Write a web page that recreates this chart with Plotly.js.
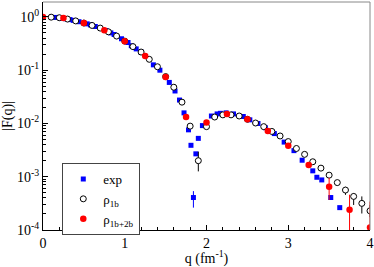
<!DOCTYPE html>
<html><head><meta charset="utf-8">
<script src="https://cdn.plot.ly/plotly-3.0.1.min.js"></script>
<style>html,body{margin:0;padding:0;background:#fff;}#c{width:374px;height:267px;}</style>
</head><body><div id="c"></div>
<script>
// exp data
var expQ = [0.15,0.22,0.28,0.33,0.37,0.44,0.54,0.58,0.64,0.77,0.83,0.87,0.96,1.04,1.08,1.14,1.20,1.35,1.43,1.545,1.615,1.67,1.725,1.78,1.81,1.84,1.87,1.90,1.95,2.06,2.13,2.17,2.24,2.33,2.45,2.53,2.63,2.72,2.79,2.83,2.95,3.07,3.17,3.30,3.35,3.41,3.52,3.63];
var expF = [0.977,0.944,0.923,0.891,0.861,0.813,0.741,0.708,0.661,0.556,0.501,0.468,0.389,0.331,0.288,0.251,0.219,0.126,0.100,0.0589,0.0407,0.0275,0.0158,0.00759,0.00389,0.000407,0.00269,0.00525,0.00912,0.0138,0.0151,0.0155,0.0158,0.0151,0.0135,0.0117,0.0100,0.00832,0.00708,0.00646,0.00447,0.00309,0.00204,0.00129,0.000977,0.000871,0.000407,0.000263];
var expErrP = expQ.map(function(q){return q===1.84?0.00013:0;});
var expErrM = expQ.map(function(q){return q===1.84?0.000144:0;});

// rho_1b
var q1b = [0.1,0.2,0.3,0.4,0.5,0.6,0.7,0.8,0.9,1.0,1.1,1.2,1.3,1.4,1.5,1.6,1.7,1.8,1.9,2.0,2.1,2.2,2.3,2.4,2.5,2.6,2.7,2.8,2.9,3.0,3.1,3.2,3.3,3.4,3.5,3.6,3.7,3.8,3.9,4.0];
var f1b = [0.989,0.966,0.912,0.841,0.767,0.692,0.617,0.525,0.437,0.351,0.277,0.219,0.160,0.116,0.0759,0.0479,0.0251,0.00891,0.00200,0.00871,0.0132,0.0145,0.0145,0.0138,0.0120,0.0102,0.00871,0.00708,0.00582,0.00457,0.00339,0.00263,0.00191,0.00145,0.00107,0.000776,0.000562,0.000427,0.000316,0.000229];
var e1bP = [0,0,0,0,0,0,0,0,0,0,0,0,0,0,0,0,0,0,0.00095,0,0,0,0,0,0,0,0,0,0,0,0,0,0,0,0,0.00008,0.000084,0.000063,0.000111,0.000066];
var e1bM = [0,0,0,0,0,0,0,0,0,0,0,0,0,0,0,0,0,0,0.00074,0,0,0,0,0,0,0,0,0,0,0,0,0,0,0,0,0.00008,0.000105,0.000132,0.000112,0.000055];

// rho_1b+2b
var q2b = [0,0.25,0.5,0.75,1.0,1.25,1.5,1.75,2.0,2.25,2.5,2.75,3.0,3.25,3.5,3.75,4.0];
var f2b = [1.0,0.955,0.771,0.562,0.350,0.184,0.0741,0.0132,0.0104,0.0151,0.0120,0.00724,0.00380,0.00166,0.000646,0.000240,0.000112];
var e2bP = [0,0,0,0,0,0,0,0,0,0,0,0,0,0.0002,0.00031,0.00022,0.00023];
var e2bM = [0,0,0,0,0,0,0,0,0,0,0,0,0,0.0002,0.00028,0.000239,0.000111];

var yTickVals = [1e-4,1e-3,1e-2,1e-1,1];
var yTickText = ['10<sup>-4</sup>','10<sup>-3</sup>','10<sup>-2</sup>','10<sup>-1</sup>','10<sup>0</sup>'];

var serif = 'Liberation Serif';

var traces = [
 {x:expQ, y:expF, type:'scatter', mode:'markers', name:'exp',
  marker:{symbol:'square', size:5, color:'#0000ff'},
  error_y:{type:'data', symmetric:false, array:expErrP, arrayminus:expErrM, color:'#0000ff', thickness:1, width:0}},
 {x:q1b, y:f1b, type:'scatter', mode:'markers', name:'ρ<sub>1b</sub>',
  marker:{symbol:'circle', size:6, color:'#ffffff', line:{color:'#000', width:1}},
  error_y:{type:'data', symmetric:false, array:e1bP, arrayminus:e1bM, color:'#000', thickness:1, width:0}},
 {x:q2b, y:f2b, type:'scatter', mode:'markers', name:'ρ<sub>1b+2b</sub>',
  marker:{symbol:'circle', size:6.5, color:'#ff0000'},
  error_y:{type:'data', symmetric:false, array:e2bP, arrayminus:e2bM, color:'#ff0000', thickness:1, width:0}}
];

var layout = {
 width:374, height:267,
 margin:{l:43, r:4, t:2, b:37},
 paper_bgcolor:'#fff', plot_bgcolor:'#fff',
 font:{family:serif, size:14, color:'#000'},
 showlegend:true,
 legend:{x:0.059, y:0.294, xanchor:'left', yanchor:'top', bordercolor:'#444', borderwidth:1, bgcolor:'#fff',
   font:{family:serif, size:13}, tracegroupgap:0, itemwidth:30},
 xaxis:{range:[0,4], showgrid:false, zeroline:false, showline:true, linecolor:'#000', linewidth:1,
   ticks:'inside', ticklen:5, tickcolor:'#000', dtick:1, tick0:0,
   minor:{ticks:'inside', ticklen:3, dtick:0.2, tickcolor:'#000'},
   tickfont:{family:serif, size:14},
   title:{text:'q (fm<sup>-1</sup>)', font:{family:serif, size:14}, standoff:4}},
 yaxis:{type:'log', range:[-4,0.28], showgrid:false, zeroline:false, showline:true, linecolor:'#000', linewidth:1,
   ticks:'inside', ticklen:5, tickcolor:'#000', tickmode:'array', tickvals:yTickVals, ticktext:yTickText,
   minor:{ticks:'inside', ticklen:3, dtick:'D1', tickcolor:'#000'},
   tickfont:{family:serif, size:14},
   title:{text:'|F(q)|', font:{family:serif, size:14}, standoff:2}},
 shapes:[
  {type:'line', xref:'paper', yref:'paper', x0:0, x1:1, y0:1, y1:1, line:{color:'#888', width:1}},
  {type:'line', xref:'paper', yref:'paper', x0:1, x1:1, y0:0, y1:1, line:{color:'#888', width:1}}
 ]
};
Plotly.newPlot('c', traces, layout, {staticPlot:true, displayModeBar:false});
</script></body></html>
